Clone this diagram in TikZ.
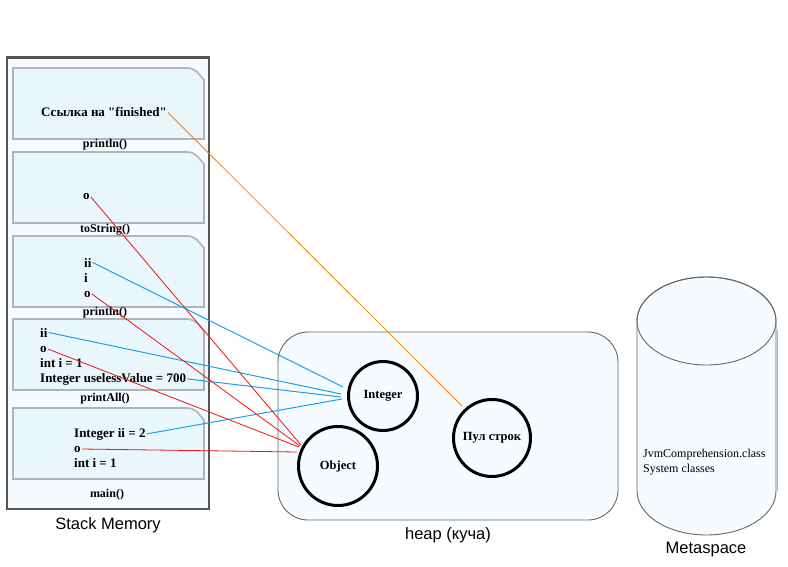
\documentclass[tikz,border=0pt]{standalone}
\usepackage{fontspec}
\setmainfont{Liberation Serif}[Ligatures=TeXOff]
\setsansfont{Liberation Sans}
\definecolor{boxfill}{HTML}{F5FBFF}
\definecolor{framefill}{HTML}{E9F6FC}
\definecolor{framedraw}{HTML}{B0B4B8}
\definecolor{outline}{HTML}{555555}
\definecolor{cblue}{HTML}{1BA1E2}
\definecolor{cred}{HTML}{F01414}
\definecolor{corange}{HTML}{FF8000}
\tikzset{
  stackbox/.style={fill=boxfill, draw=outline, line width=1.2pt},
  framebox/.style={fill=framefill, draw=framedraw, line width=1.6pt},
  frametxt/.style={font=\fontsize{13}{15}\selectfont\bfseries, inner xsep=1pt, inner ysep=0pt, anchor=base west},
  framelbl/.style={font=\fontsize{12}{15}\selectfont\bfseries, inner sep=0pt, anchor=base},
  titletxt/.style={font=\sffamily\fontsize{16.5}{19}\selectfont, inner sep=0pt, anchor=base},
  plaintxt/.style={font=\fontsize{12}{15}\selectfont, inner sep=0pt, anchor=base west},
  objcircle/.style={circle, draw=black, line width=3pt, inner sep=0pt, font=\fontsize{12.5}{15}\selectfont\bfseries},
  refblue/.style={draw=cblue, line width=1pt},
  refred/.style={draw=cred, line width=0.8pt},
  reforange/.style={draw=corange, line width=0.8pt},
}
\begin{document}
\begin{tikzpicture}[x=1pt, y=-1pt]
\useasboundingbox (0,0) rectangle (788,567);
\fill[white] (0,0) rectangle (788,567);

% Stack memory
\draw[stackbox] (7,58) rectangle (209,509);
\draw[outline, line width=3pt] (5.8,58) -- (210.2,58);
\foreach \t in {68,152,236,319,408}{
  \draw[framebox] (13,\t) -- (187,\t) .. controls (195,\t) and (198,\t+5) .. (204,\t+12) -- (204,\t+71) -- (13,\t+71) -- cycle;
}
\node[titletxt] (stacktitle) at (108,529) {Stack Memory};

% frame labels
\node[framelbl] (l1) at (105,148) {println()};
\node[framelbl] (l2) at (105,233) {toString()};
\node[framelbl] (l3) at (105,316) {println()};
\node[framelbl] (l4) at (105,401) {printAll()};
\node[framelbl] (l5) at (107,497) {main()};

% frame texts
\node[frametxt] (ref) at (40,117) {Ссылка на "finished"};
\node[frametxt] (o2) at (82,200) {o};
\node[frametxt] (ii3) at (83,267) {ii};
\node[frametxt] (i3) at (83,282) {i};
\node[frametxt] (o3) at (83,297) {o};
\node[frametxt] (ii4) at (39,337) {ii};
\node[frametxt] (o4) at (39,352) {o};
\node[frametxt] (i4) at (39,367) {int i = 1};
\node[frametxt] (uv4) at (39,382) {Integer uselessValue = 700};
\node[frametxt] (ii5) at (73,437) {Integer ii = 2};
\node[frametxt] (o5) at (73,452) {o};
\node[frametxt] (i5) at (73,467) {int i = 1};

% heap
\draw[fill=boxfill, draw=outline!90, line width=0.9pt, rounded corners=30pt] (278,332) rectangle (618,520);
\node[titletxt] (heaptitle) at (448,539) {heap (куча)};
\node[objcircle, minimum size=69pt] (integer) at (383,396) {Integer};
\node[objcircle, minimum size=79pt] (object) at (338,466) {Object};
\node[objcircle, minimum size=77pt] (pool) at (492,438) {Пул строк};

% metaspace
\draw[fill=boxfill, draw=outline!90, line width=0.9pt] (637,321) -- (637,491) arc[start angle=180, end angle=360, x radius=69.5pt, y radius=44pt] -- (776,321) arc[start angle=0, end angle=180, x radius=69.5pt, y radius=44pt] -- cycle;
\draw[black!30, line width=1.2pt] (777.2,330) -- (777.2,491);
\draw[outline!90, line width=0.9pt] (706.5,321) ellipse[x radius=69.5pt, y radius=44pt];
\node[plaintxt] (jvm) at (643,457) {JvmComprehension.class};
\node[plaintxt] (sys) at (643,472) {System classes};
\node[titletxt] (metatitle) at (706,553) {Metaspace};

% connector end points
\coordinate (pa) at (462,406);
\coordinate (ia) at (343,387);
\coordinate (ib) at (341,394);
\coordinate (ic) at (341,397);
\coordinate (id) at (342,399);
\coordinate (oa) at (301,445);
\coordinate (ob) at (300,446);
\coordinate (oc) at (299,447);
\coordinate (od) at (297,452);

% connectors
\draw[reforange] (ref.east) -- (pa);
\draw[refblue] (ii3.east) -- (ia);
\draw[refblue] (ii4.east) -- (ib);
\draw[refblue] (uv4.east) -- (ic);
\draw[refblue] (ii5.east) -- (id);
\draw[refred] (o2.east) -- (oa);
\draw[refred] (o3.east) -- (ob);
\draw[refred] (o4.east) -- (oc);
\draw[refred] (o5.east) -- (od);
\end{tikzpicture}
\end{document}
